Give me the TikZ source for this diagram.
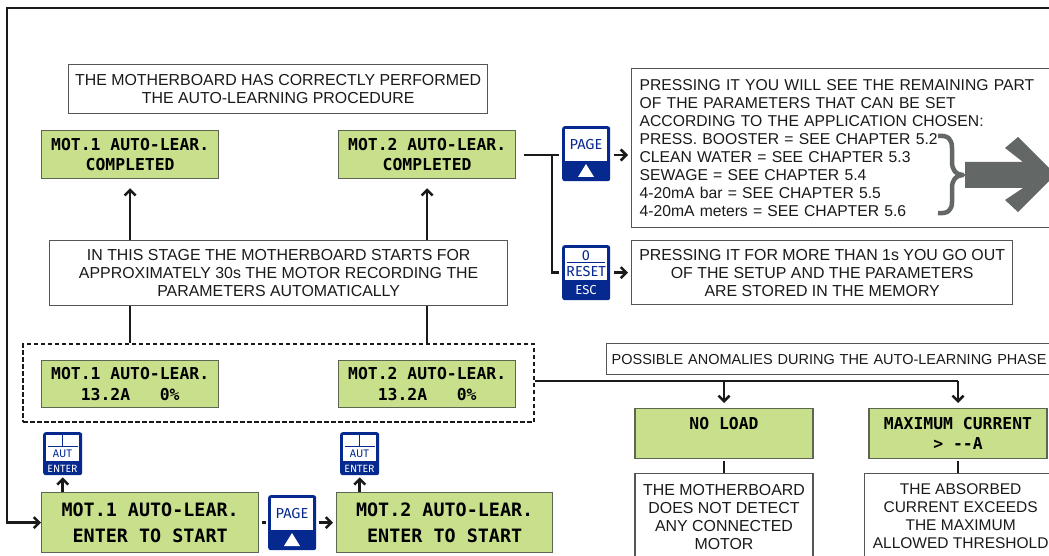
\documentclass[tikz,border=0pt]{standalone}
\usepackage{fontspec}
\setmainfont{Liberation Sans}
\newfontfamily\lcdfont{DejaVu Sans Mono}
\newfontfamily\keyfont{Fira Sans}
\usetikzlibrary{arrows.meta,calc}
\definecolor{lcdfill}{HTML}{C8E08C}
\definecolor{lcdedge}{HTML}{5C6650}
\definecolor{keyblue}{HTML}{06298F}
\definecolor{boxedge}{HTML}{555555}
\definecolor{ink}{HTML}{1A1A1A}
\definecolor{bigarrow}{HTML}{636766}
\tikzset{
  textbox/.style={draw=boxedge,line width=1.3,fill=white,anchor=north west,inner sep=0,align=center,text=ink,font=\fontsize{15.9}{18}\selectfont},
  lcdsmall/.style={draw=lcdedge,line width=1.3,fill=lcdfill,anchor=north west,inner sep=0,align=center,text=black,font=\lcdfont\bfseries\fontsize{16.4}{20.5}\selectfont},
  lcdbig/.style={lcdsmall,font=\lcdfont\bfseries\fontsize{18.4}{26}\selectfont},
  wire/.style={draw=ink,line width=2.5},
  arr/.style={wire,-{Straight Barb[length=5.5,width=11,line width=2.5]}},
  keybody/.style={fill=keyblue,rounded corners=2.5,anchor=north west,inner sep=0,minimum width=#1},
  keywin/.style={fill=white,draw=none},
  keytext/.style={inner sep=0,font=\keyfont\fontsize{#1}{#1}\selectfont}
}
\newcommand{\keypage}[3]{%
  \node[keybody=48,minimum height=55] (#1) at (#2,#3) {};
  \begin{scope}[shift={(#2,#3)}]
    \fill[keywin] (3,3) rectangle (45,35);
    \fill[white] (24,38) -- (32,51) -- (16,51) -- cycle;
    \node[keytext=14.5,text=keyblue] (#1t) at (24,19) {PAGE};
  \end{scope}}
\newcommand{\keyreset}[3]{%
  \node[keybody=48,minimum height=55] (#1) at (#2,#3) {};
  \begin{scope}[shift={(#2,#3)}]
    \fill[keywin] (3,3) rectangle (45,35);
    \draw[keyblue,line width=.8] (5,17.5) -- (43,17.5);
    \node[keytext=14.5,text=keyblue] (#1a) at (24,10.5) {0};
    \node[keytext=14.5,text=keyblue] (#1b) at (24,26.5) {RESET};
    \node[keytext=13,text=white] (#1c) at (24,45) {ESC};
  \end{scope}}
\newcommand{\keyenter}[3]{%
  \node[keybody=39,minimum height=43] (#1) at (#2,#3) {};
  \begin{scope}[shift={(#2,#3)}]
    \fill[keywin] (3,3) rectangle (36,29);
    \draw[keyblue,line width=.8] (4.5,14.5) -- (34.5,14.5) (19.5,3) -- (19.5,14.5);
    \node[keytext=11,text=keyblue] (#1a) at (19.5,22) {AUT};
    \node[keytext=10.5,text=white] (#1b) at (19.5,36.5) {ENTER};
  \end{scope}}
\begin{document}
\begin{tikzpicture}[x=1pt,y=-1pt]
\useasboundingbox (0,0) rectangle (1049,556);
\clip (0,0) rectangle (1049,556);
\fill[white] (0,0) rectangle (1049,556);

\node[textbox,minimum width=419,minimum height=49] (done) at (68,64) {THE MOTHERBOARD HAS CORRECTLY PERFORMED\\THE AUTO-LEARNING PROCEDURE};
\node[lcdsmall,minimum width=177,minimum height=48] (lcdA) at (41,130) {\raisebox{-1pt}{MOT.1 AUTO-LEAR.}\\\raisebox{-1pt}{COMPLETED}};
\node[lcdsmall,minimum width=177,minimum height=48] (lcdB) at (338,130) {\raisebox{-1pt}{MOT.2 AUTO-LEAR.}\\\raisebox{-1pt}{COMPLETED}};
\node[textbox,minimum width=458,minimum height=65] (stage) at (49,240) {IN THIS STAGE THE MOTHERBOARD STARTS FOR\\APPROXIMATELY 30s THE MOTOR RECORDING THE\\PARAMETERS AUTOMATICALLY};

\node[draw=ink,line width=2.4,dash pattern=on 4.5 off 2.5,anchor=north west,inner sep=0,minimum width=511,minimum height=78] (dash) at (22,343) {};
\node[lcdsmall,minimum width=177,minimum height=47] (lcdC) at (41,360) {MOT.1 AUTO-LEAR.\\13.2A~~~0\%};
\node[lcdsmall,minimum width=177,minimum height=47] (lcdD) at (338,360) {MOT.2 AUTO-LEAR.\\13.2A~~~0\%};

\node[lcdbig,minimum width=217,minimum height=60] (lcdE) at (41,492) {MOT.1 AUTO-LEAR.\\ENTER TO START};
\node[lcdbig,minimum width=216,minimum height=60] (lcdF) at (336,492) {MOT.2 AUTO-LEAR.\\ENTER TO START};

\keyenter{entA}{43}{432}
\keyenter{entB}{340}{432}
\keypage{pageS}{268}{495}
\keypage{pageT}{562}{126}
\keyreset{resetK}{562}{245}

\node[textbox,font=\fontsize{15.7}{18}\selectfont,minimum width=430,minimum height=159,text width=414,inner xsep=8,align=left] (param) at (631,68) {PRESSING IT YOU WILL SEE THE REMAINING PART\\OF THE PARAMETERS THAT CAN BE SET\\ACCORDING TO THE APPLICATION CHOSEN:\\PRESS. BOOSTER = SEE CHAPTER 5.2\\CLEAN WATER = SEE CHAPTER 5.3\\SEWAGE = SEE CHAPTER 5.4\\4-20mA bar = SEE CHAPTER 5.5\\4-20mA meters = SEE CHAPTER 5.6};
\node[textbox,minimum width=381,minimum height=64] (escbox) at (631,240) {PRESSING IT FOR MORE THAN 1s YOU GO OUT\\OF THE SETUP AND THE PARAMETERS\\ARE STORED IN THE MEMORY};
\node[textbox,font=\fontsize{14.5}{18}\selectfont,minimum width=460,minimum height=31,text width=450,inner xsep=5,align=left] (anom) at (606,343) {POSSIBLE ANOMALIES DURING THE AUTO-LEARNING PHASE};

\node[lcdsmall,minimum width=178,minimum height=50,anchor=north] (noload) at (724,408) {NO LOAD\\~};
\node[lcdsmall,minimum width=178,minimum height=50,anchor=north] (maxcur) at (958,408) {MAXIMUM CURRENT\\> --A};
\node[textbox,minimum width=178,minimum height=86,anchor=north] (noloadtxt) at (724,473) {THE MOTHERBOARD\\DOES NOT DETECT\\ANY CONNECTED\\MOTOR};
\node[textbox,font=\fontsize{15.5}{18}\selectfont,minimum width=192,minimum height=86] (maxtxt) at (864,473) {THE ABSORBED\\CURRENT EXCEEDS\\THE MAXIMUM\\ALLOWED THRESHOLD};

% big grey brace and arrow
\draw[bigarrow,line width=4.5,line join=round] (938,136) .. controls (948,135) and (952,139) .. (952,148) -- (952,162) .. controls (952,170) and (956,175) .. (963,175) .. controls (956,175) and (952,180) .. (952,188) -- (952,202) .. controls (952,210) and (948,214) .. (938,213);
\fill[bigarrow] (965,162) -- (1023,162) -- (1005,148) -- (1018,137) -- (1049,168) -- (1049,181) -- (1018,212) -- (1005,200) -- (1023,188) -- (965,188) -- cycle;

% connectors
\coordinate (frameA) at (7,8);
\coordinate (frameB) at (1049,8);
\draw[arr] (frameB) -- (frameA) -- (frameA |- lcdE.west) -- (lcdE.west);
\draw[arr,shorten >=9] (stage.north -| lcdA.south) -- (lcdA.south);
\draw[arr,shorten >=9] (stage.north -| lcdB.south) -- (lcdB.south);
\draw[wire] (stage.south -| lcdC.north) -- (dash.north -| lcdC.north);
\draw[wire] (stage.south -| lcdD.north) -- (dash.north -| lcdD.north);
\coordinate (split) at (552,155);
\draw[wire] (lcdB.east |- split) ++(8,0) -- ([xshift=-3]pageT.west |- split);
\draw[wire] (split) -- (split |- resetK.west) -- ([xshift=-3]resetK.west);
\draw[arr,shorten <=4,shorten >=3] (pageT.east |- split) -- (param.west |- split);
\draw[arr,shorten <=4,shorten >=3] (resetK.east) -- (escbox.west |- resetK.east);
\coordinate (busend) at (958,381);
\draw[wire] (dash.east |- busend) -- (busend);
\draw[arr,shorten >=5] (noload.north |- busend) -- (noload.north);
\draw[arr,shorten >=5] (busend) -- (maxcur.north);
\draw[wire,shorten <=2] (noload.south) -- (noloadtxt.north);
\draw[wire,shorten <=2] (maxcur.south) -- (maxtxt.north -| maxcur.south);
\draw[arr,shorten >=2] (lcdE.north -| entA.south) -- (entA.south);
\draw[arr,shorten >=2] (lcdF.north -| entB.south) -- (entB.south);
\draw[wire,shorten <=3,shorten >=2] (lcdE.east) -- (pageS.west |- lcdE.east);
\draw[arr,shorten <=3,shorten >=3] (pageS.east |- lcdF.west) -- (lcdF.west);
\end{tikzpicture}
\end{document}
